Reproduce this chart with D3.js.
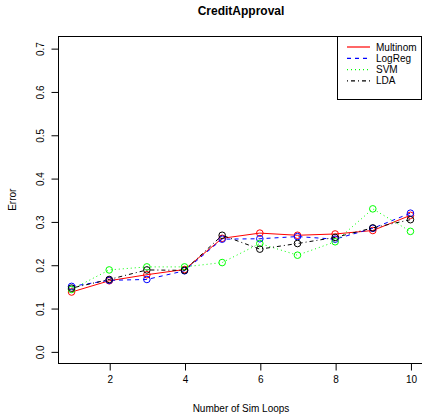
<!DOCTYPE html>
<html>
<head>
<meta charset="utf-8">
<script src="https://cdn.jsdelivr.net/npm/d3@7/dist/d3.min.js"></script>
<style>
  html, body { margin: 0; padding: 0; background: #fff; }
  svg { display: block; font-family: "Liberation Sans", Arial, sans-serif; }
</style>
</head>
<body>
<svg id="chart" width="422" height="420"></svg>
<script>
const loops = [1, 2, 3, 4, 5, 6, 7, 8, 9, 10];
const multinom = [0.137, 0.163, 0.177, 0.189, 0.261, 0.273, 0.268, 0.271, 0.279, 0.314];
const logreg   = [0.150, 0.164, 0.166, 0.186, 0.259, 0.260, 0.265, 0.259, 0.284, 0.319];
const svm      = [0.143, 0.188, 0.195, 0.195, 0.205, 0.249, 0.222, 0.253, 0.329, 0.277];
const lda      = [0.146, 0.166, 0.188, 0.187, 0.268, 0.236, 0.249, 0.263, 0.285, 0.304];
const seriesNames = ["Multinom", "LogReg", "SVM", "LDA"];
const xTicks = [2, 4, 6, 8, 10];
const yTicks = [0.0, 0.1, 0.2, 0.3, 0.4, 0.5, 0.6, 0.7];

const series = [
  { name: seriesNames[0], values: multinom, color: "#ff0000", dash: null },
  { name: seriesNames[1], values: logreg,   color: "#0000ff", dash: "4,4" },
  { name: seriesNames[2], values: svm,      color: "#00ff00", dash: "1,3" },
  { name: seriesNames[3], values: lda,      color: "#000000", dash: "1,3,4,3" }
];

const svg = d3.select("#chart");
const pLeft = 58, pRight = 424, pTop = 36, pBottom = 363.5;

const x = d3.scaleLinear().domain([0.64, 10.36]).range([pLeft, pRight]);
const y = d3.scaleLinear().domain([-0.028, 0.728]).range([pBottom, pTop]);

// plot box
svg.append("rect")
  .attr("x", pLeft + 0.5).attr("y", pTop + 0.5)
  .attr("width", pRight - pLeft).attr("height", pBottom - pTop - 0.5)
  .attr("fill", "none").attr("stroke", "#000").attr("stroke-width", 1);

// x axis
const xAxis = d3.axisBottom(x).tickValues(xTicks).tickSize(7).tickPadding(5).tickFormat(d3.format("d"));
const gx = svg.append("g").attr("transform", `translate(0.5,${pBottom})`).call(xAxis);
gx.select(".domain").remove();
gx.selectAll("text").attr("font-size", 10).attr("fill", "#000").attr("font-family", "Liberation Sans, Arial, sans-serif");
gx.selectAll("line").attr("stroke", "#000");

// y axis
const yAxis = d3.axisLeft(y).tickValues(yTicks).tickSize(7).tickFormat(d3.format(".1f"));
const gy = svg.append("g").attr("transform", `translate(${pLeft + 0.5},0.5)`).call(yAxis);
gy.select(".domain").remove();
gy.selectAll("line").attr("stroke", "#000");
gy.selectAll("text")
  .attr("font-size", 10).attr("fill", "#000").attr("font-family", "Liberation Sans, Arial, sans-serif")
  .attr("text-anchor", "middle").attr("dy", null).attr("x", null)
  .attr("transform", "translate(-18,0) rotate(-90)")
  .attr("dominant-baseline", "central");

// titles
svg.append("text").attr("x", 241).attr("y", 15).attr("text-anchor", "middle")
  .attr("font-size", 12).attr("font-weight", "bold").text("CreditApproval");
svg.append("text").attr("x", 241).attr("y", 412).attr("text-anchor", "middle")
  .attr("font-size", 10).text("Number of Sim Loops");
svg.append("text").attr("transform", `translate(16,${(pTop + pBottom) / 2}) rotate(-90)`)
  .attr("text-anchor", "middle").attr("font-size", 10).text("Error");

// series
const line = d3.line().x((d, i) => x(loops[i])).y(d => y(d));
series.forEach(s => {
  svg.append("path").datum(s.values)
    .attr("d", line).attr("fill", "none")
    .attr("stroke", s.color).attr("stroke-width", 1)
    .attr("stroke-dasharray", s.dash);
  svg.append("g").selectAll("circle").data(s.values).join("circle")
    .attr("cx", (d, i) => x(loops[i])).attr("cy", d => y(d)).attr("r", 3.3)
    .attr("fill", "none").attr("stroke", s.color).attr("stroke-width", 1);
});

// legend
const lg = svg.append("g");
lg.append("rect").attr("x", 337.5).attr("y", pTop + 0.5).attr("width", 84).attr("height", 63)
  .attr("fill", "#fff").attr("stroke", "#000").attr("stroke-width", 1);
series.forEach((s, i) => {
  const yy = 47 + i * 11.3;
  lg.append("line").attr("x1", 347).attr("x2", 370).attr("y1", yy).attr("y2", yy)
    .attr("stroke", s.color).attr("stroke-width", 1.2).attr("stroke-dasharray", s.dash);
  lg.append("text").attr("x", 376).attr("y", yy).attr("dominant-baseline", "central")
    .attr("font-size", 10).text(s.name);
});
</script>
</body>
</html>
